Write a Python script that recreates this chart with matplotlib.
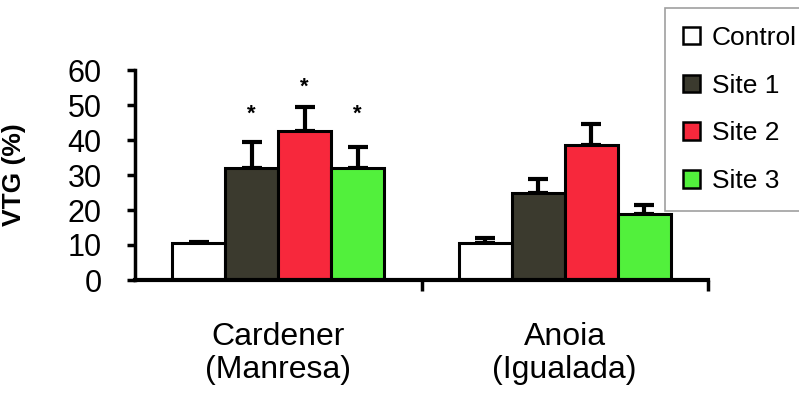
import matplotlib
matplotlib.use("Agg")
import matplotlib.pyplot as plt
import numpy as np

plt.rcParams['font.family'] = ['Liberation Sans', 'DejaVu Sans']

# datos
rivers = ["Cardener\n(Manresa)", "Anoia\n(Igualada)"]
series = ["Control", "Site 1", "Site 2", "Site 3"]
vtg = {
    "Control": [10.5, 10.6],
    "Site 1": [32.0, 24.8],
    "Site 2": [42.6, 38.6],
    "Site 3": [32.0, 19.0],
}
vtg_err = {
    "Control": [0.5, 1.4],
    "Site 1": [7.4, 4.2],
    "Site 2": [6.8, 6.0],
    "Site 3": [6.0, 2.4],
}
# asteriscos (diferencia significativa), altura del simbolo
stars_y = {
    "Site 1": [47.5, None],
    "Site 2": [55.0, None],
    "Site 3": [47.5, None],
}
yticks = [0, 10, 20, 30, 40, 50, 60]

colors = {
    "Control": "#ffffff",
    "Site 1": "#3b3a2e",
    "Site 2": "#f7283c",
    "Site 3": "#52f03c",
}

fig = plt.figure(figsize=(7.99, 3.98), dpi=100)
ax = fig.add_axes([135 / 799, 1 - 280 / 398, (708 - 135) / 799, 210 / 398])

x = np.arange(len(rivers))
w = 0.185
for i, s in enumerate(series):
    pos = x + (i - 1.5) * w
    ax.bar(pos, vtg[s], width=w, color=colors[s], edgecolor="black",
           linewidth=2.2, zorder=2, label=s)
    ax.errorbar(pos, vtg[s], yerr=[np.zeros(len(rivers)), vtg_err[s]],
                fmt="none", ecolor="black", elinewidth=3, capsize=7.5,
                capthick=3, zorder=1)
    if s in stars_y:
        for p, sy in zip(pos, stars_y[s]):
            if sy is not None:
                ax.text(p, sy, "*", ha="center", va="center", fontsize=16,
                        fontweight="bold")

ax.set_xlim(-0.5, 1.5)
ax.set_ylim(0, 60)
ax.set_yticks(yticks)
ax.tick_params(axis="y", labelsize=22, length=6, width=2.5, pad=18)
ax.set_xticks(x)
ax.set_xticklabels(rivers, fontsize=23, linespacing=1.15)
ax.tick_params(axis="x", length=0, pad=30)
ax.set_xticks([0.5, 1.5], minor=True)
ax.tick_params(axis="x", which="minor", length=8, width=2.5)

for sp in ["top", "right"]:
    ax.spines[sp].set_visible(False)
ax.spines["left"].set_linewidth(2.5)
ax.spines["bottom"].set_linewidth(3)

ax.set_ylabel("VTG (%)", fontsize=19, fontweight="bold")
ax.yaxis.set_label_coords(-0.19, 0.5)

leg = ax.legend(loc="upper left", bbox_to_anchor=(665 / 799, 1 - 8 / 398),
                bbox_transform=fig.transFigure, fontsize=19, frameon=True,
                fancybox=False, edgecolor="#888888", handlelength=0.65,
                handleheight=0.65, handletextpad=0.45, labelspacing=0.9,
                borderpad=0.68, borderaxespad=0)
leg.get_frame().set_linewidth(1.2)
for h in leg.legend_handles:
    h.set_linewidth(1.8)

fig.savefig("out.png", dpi=100)
